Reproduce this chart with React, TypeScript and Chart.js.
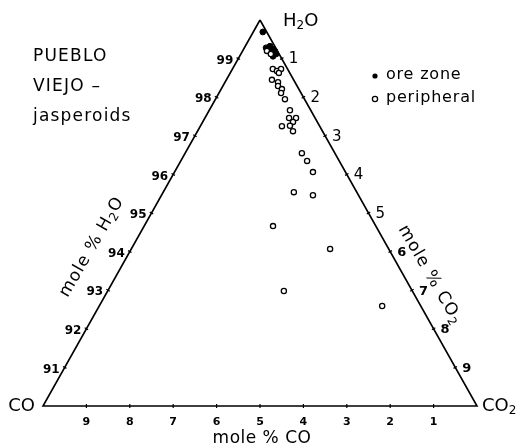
import { useEffect, useRef } from "react";
import { Chart, registerables } from "chart.js";

Chart.register(...registerables);

// mole % CO and mole % CO2 of each sample (mole % H2O = 100 - CO - CO2)
const oreZoneCO = [0.09, 0.22, 0.11, 0.08, 0.06, 0.08, 0.14, 0.07, 0.17, 0.18];
const oreZoneCO2 = [0.22, 0.5, 0.57, 0.68, 0.75, 0.77, 0.69, 0.81, 0.77, 0.6];

const peripheralCO = [
  0.24, 0.19, 0.34, 0.27, 0.15, 0.25, 0.5, 0.39, 0.44, 0.39, 0.46, 0.45, 0.48, 0.6,
  0.44, 0.56, 0.87, 0.68, 0.68, 0.76, 0.74, 0.75, 1.45, 1.05, 2.37, 1.35, 2.96, 0.89,
];
const peripheralCO2 = [
  0.56, 0.69, 0.93, 1.05, 1.12, 1.12, 1.05, 1.22, 1.27, 1.4, 1.43, 1.6, 1.86, 1.94,
  2.1, 2.08, 1.88, 2.06, 2.2, 2.69, 2.91, 3.19, 3.01, 3.49, 2.97, 4.58, 4.06, 6.52,
];

// Axis tick labels
const h2oTicks = [91, 92, 93, 94, 95, 96, 97, 98, 99];
const co2Ticks = [1, 2, 3, 4, 5, 6, 7, 8, 9];
const coTicks = [1, 2, 3, 4, 5, 6, 7, 8, 9];

// Corner compositions (CO, CO2)
const cornerCO = [0, 10, 0, 0];
const cornerCO2 = [0, 0, 10, 0];

const titleLines = ["PUEBLO", "VIEJO –", "jasperoids"];
const legendLabels = ["ore zone", "peripheral"];

const FONT = '"DejaVu Sans", sans-serif';

// ternary (CO, CO2) -> cartesian (x, y) in triangle units
function toXY(co: number, co2: number) {
  const a = 1 - (co + co2) / 10;
  const c = co2 / 10;
  return { x: c + a / 2, y: a };
}

type Part = { t: string; sub?: boolean };

function drawRich(
  ctx: CanvasRenderingContext2D,
  parts: Part[],
  x: number,
  y: number,
  size: number,
  align: "left" | "center" | "right",
  spacing = 0,
  weight = "normal"
) {
  const subSize = Math.round(size * 0.68);
  const widths = parts.map((p) => {
    ctx.font = `${weight} ${p.sub ? subSize : size}px ${FONT}`;
    (ctx as any).letterSpacing = `${spacing}px`;
    return ctx.measureText(p.t).width;
  });
  const total = widths.reduce((s, w) => s + w, 0);
  let cx = align === "center" ? x - total / 2 : align === "right" ? x - total : x;
  ctx.textAlign = "left";
  parts.forEach((p, i) => {
    ctx.font = `${weight} ${p.sub ? subSize : size}px ${FONT}`;
    (ctx as any).letterSpacing = `${spacing}px`;
    ctx.fillText(p.t, cx, y + (p.sub ? size * 0.28 : 0));
    cx += widths[i];
  });
  (ctx as any).letterSpacing = "0px";
}

const ternaryPlugin = {
  id: "ternaryDecor",
  afterDatasetsDraw(chart: any) {
    const ctx: CanvasRenderingContext2D = chart.ctx;
    const xs = chart.scales.x;
    const ys = chart.scales.y;
    const P = (co: number, co2: number) => {
      const p = toXY(co, co2);
      return [xs.getPixelForValue(p.x), ys.getPixelForValue(p.y)];
    };
    ctx.save();
    ctx.fillStyle = "#000";
    ctx.strokeStyle = "#000";
    ctx.lineWidth = 1.2;
    ctx.textBaseline = "middle";

    const tick = (px: number, py: number, nx: number, ny: number) => {
      ctx.beginPath();
      ctx.moveTo(px - nx * 2, py - ny * 2);
      ctx.lineTo(px + nx * 2, py + ny * 2);
      ctx.stroke();
    };

    // left edge: mole % H2O
    h2oTicks.forEach((h) => {
      const [px, py] = P(100 - h, 0);
      tick(px, py, -0.87, -0.49);
      drawRich(ctx, [{ t: String(h) }], px - 5, py + 2, 12, "right", 0, "bold");
    });
    // right edge: mole % CO2
    co2Ticks.forEach((v) => {
      const [px, py] = P(0, v);
      tick(px, py, 0.87, -0.49);
      if (v <= 5) drawRich(ctx, [{ t: String(v) }], px + 7, py + 1, 15, "left");
      else drawRich(ctx, [{ t: String(v) }], px + 7, py + 1, 13, "left", 0, "bold");
    });
    // bottom edge: mole % CO
    coTicks.forEach((v) => {
      const [px, py] = P(v, 10 - v);
      tick(px, py, 0, 1);
      drawRich(ctx, [{ t: String(v) }], px, py + 16, 11, "center", 0, "bold");
    });

    // corner labels
    const [ax, ay] = P(0, 0);
    const [lx, ly] = P(10, 0);
    const [rx, ry] = P(0, 10);
    drawRich(ctx, [{ t: "H" }, { t: "2", sub: true }, { t: "O" }], ax + 23, ay + 1, 18, "left");
    drawRich(ctx, [{ t: "CO" }], lx - 8, ly, 18, "right");
    drawRich(ctx, [{ t: "CO" }, { t: "2", sub: true }], rx + 5, ry, 18, "left");

    // axis titles
    drawRich(ctx, [{ t: "mole % CO" }], 262, 439, 17, "center", 0.5);
    ctx.save();
    ctx.translate(92, 247);
    ctx.rotate((-60 * Math.PI) / 180);
    drawRich(ctx, [{ t: "mole % H" }, { t: "2", sub: true }, { t: "O" }], 0, 0, 17, "center", 1);
    ctx.restore();
    ctx.save();
    ctx.translate(430, 275);
    ctx.rotate((60 * Math.PI) / 180);
    drawRich(ctx, [{ t: "mole % CO" }, { t: "2", sub: true }], 0, 0, 17, "center", 1);
    ctx.restore();

    // title
    titleLines.forEach((t, i) => {
      drawRich(ctx, [{ t }], 33, 57 + i * 30, 17, "left", 1.2);
    });

    // legend
    legendLabels.forEach((t, i) => {
      const yy = 75 + i * 23;
      ctx.beginPath();
      ctx.arc(375, yy + 1, 2.6, 0, Math.PI * 2);
      if (i === 0) ctx.fill();
      else {
        ctx.lineWidth = 1.3;
        ctx.stroke();
      }
      drawRich(ctx, [{ t }], 386, yy, 16, "left", 0.8);
    });
    ctx.restore();
  },
};

export default function App() {
  const ref = useRef<HTMLCanvasElement>(null);
  useEffect(() => {
    if (!ref.current) return;
    const frame = cornerCO.map((co, i) => toXY(co, cornerCO2[i]));
    const ore = oreZoneCO.map((co, i) => toXY(co, oreZoneCO2[i]));
    const per = peripheralCO.map((co, i) => toXY(co, peripheralCO2[i]));
    const chart = new Chart(ref.current, {
      type: "scatter",
      data: {
        datasets: [
          {
            label: "frame",
            data: frame,
            showLine: true,
            borderColor: "#000",
            borderWidth: 1.6,
            pointRadius: 0,
            fill: false,
            clip: false as any,
          },
          {
            label: "peripheral",
            data: per,
            pointRadius: 2.6,
            backgroundColor: "#fff",
            borderColor: "#000",
            borderWidth: 1.3,
            clip: false as any,
          },
          {
            label: "ore zone",
            data: ore,
            pointRadius: 2.9,
            backgroundColor: "#000",
            borderColor: "#000",
            borderWidth: 1,
            clip: false as any,
          },
        ],
      },
      options: {
        responsive: false,
        animation: false,
        devicePixelRatio: 1,
        layout: { padding: { left: 43, right: 52, top: 20, bottom: 42 } },
        scales: {
          x: { type: "linear", min: 0, max: 1, display: false },
          y: { type: "linear", min: 0, max: 1, display: false },
        },
        plugins: { legend: { display: false }, tooltip: { enabled: false } },
      },
      plugins: [ternaryPlugin],
    });
    return () => chart.destroy();
  }, []);
  return (
    <div style={{ position: "absolute", left: 0, top: 0, width: 529, height: 448, background: "#fff" }}>
      <canvas ref={ref} width={529} height={448} />
    </div>
  );
}
